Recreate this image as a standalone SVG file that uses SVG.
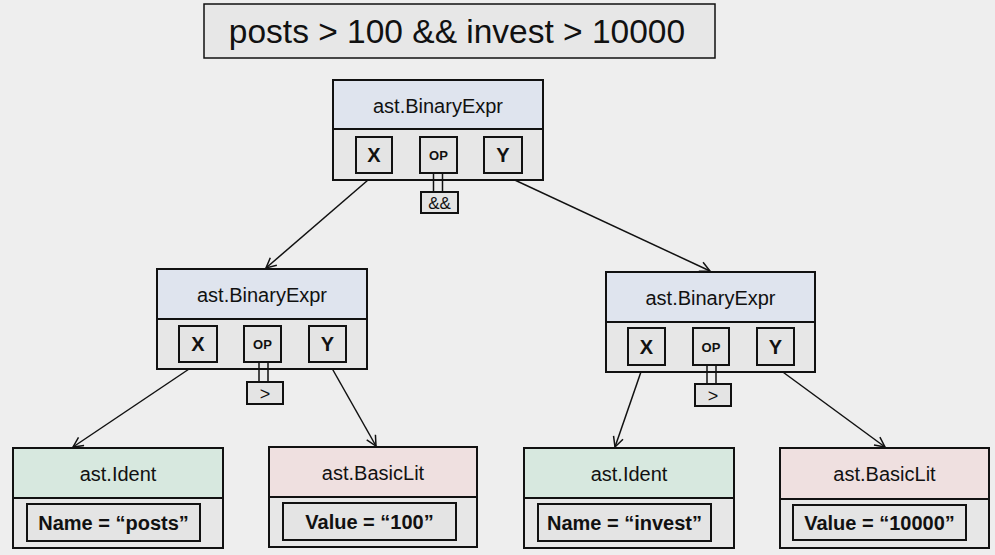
<svg xmlns="http://www.w3.org/2000/svg" width="995" height="555" viewBox="0 0 995 555">
<defs>
<style>
.bg{fill:#eeeeee}
.box{stroke:#111;stroke-width:2}
.body{fill:#e7e7e7}
.hb{fill:#dfe4ee}
.hg{fill:#d7e8df}
.hp{fill:#efe0e0}
.sm{fill:#e4e4e4;stroke:#111;stroke-width:2}
.t{font-family:"Liberation Sans",Arial,sans-serif;fill:#111;text-anchor:middle}
.h{font-size:20px}
.b{font-weight:bold}
.xy{font-size:20px;font-weight:bold}
.op{font-size:13px;font-weight:bold}
.conn{stroke:#111;stroke-width:1.5;fill:none}
.dl{stroke:#111;stroke-width:1.5}
</style>
<marker id="arr" viewBox="0 0 12 12" refX="11" refY="6" markerWidth="12" markerHeight="12" markerUnits="userSpaceOnUse" orient="auto">
<path d="M1,1 L11,6 L1,11" fill="none" stroke="#111" stroke-width="1.5"/>
</marker>
</defs>
<rect class="bg" x="0" y="0" width="995" height="555"/>

<g id="title">
<rect x="204" y="4" width="511" height="54" fill="#e7e7e7" stroke="#111" stroke-width="1.5"/>
<text class="t" x="457" y="43" font-size="33.5">posts &gt; 100 &amp;&amp; invest &gt; 10000</text>
</g>

<g id="connectors">
<line class="conn" x1="375" y1="174" x2="266" y2="268" marker-end="url(#arr)"/>
<line class="conn" x1="502" y1="174" x2="710" y2="271" marker-end="url(#arr)"/>
<line class="conn" x1="198" y1="363" x2="73" y2="447" marker-end="url(#arr)"/>
<line class="conn" x1="329" y1="363" x2="376" y2="446" marker-end="url(#arr)"/>
<line class="conn" x1="643" y1="366" x2="615" y2="447" marker-end="url(#arr)"/>
<line class="conn" x1="776" y1="367" x2="885" y2="447" marker-end="url(#arr)"/>
</g>

<g id="binary-top">
<rect class="box body" x="333" y="80" width="210" height="100"/>
<rect class="box hb" x="333" y="80" width="210" height="49"/>
<text class="t h" x="438" y="113">ast.BinaryExpr</text>
<rect class="sm" x="356" y="137" width="36" height="36"/>
<text class="t xy" x="374" y="162">X</text>
<rect class="sm" x="420" y="137" width="37" height="36"/>
<text class="t op" x="438.5" y="160">OP</text>
<rect class="sm" x="484" y="137" width="38" height="36"/>
<text class="t xy" x="503" y="162">Y</text>
<line class="dl" x1="433.5" y1="173" x2="433.5" y2="192"/>
<line class="dl" x1="442.5" y1="173" x2="442.5" y2="192"/>
<rect class="sm" x="421" y="192" width="37" height="21" stroke-width="1.5"/>
<text class="t" x="439.5" y="209" font-size="17">&amp;&amp;</text>
</g>

<g id="binary-left">
<rect class="box body" x="157" y="269" width="210" height="100"/>
<rect class="box hb" x="157" y="269" width="210" height="50"/>
<text class="t h" x="262" y="302">ast.BinaryExpr</text>
<rect class="sm" x="179" y="326" width="38" height="36"/>
<text class="t xy" x="198" y="351">X</text>
<rect class="sm" x="244" y="326" width="37" height="36"/>
<text class="t op" x="262.5" y="349">OP</text>
<rect class="sm" x="309" y="326" width="37" height="36"/>
<text class="t xy" x="327.5" y="351">Y</text>
<line class="dl" x1="259" y1="362" x2="259" y2="382"/>
<line class="dl" x1="268" y1="362" x2="268" y2="382"/>
<rect class="sm" x="247" y="382" width="36" height="22" stroke-width="1.5"/>
<text class="t" x="265" y="400" font-size="18">&gt;</text>
</g>

<g id="binary-right">
<rect class="box body" x="606" y="272" width="209" height="100"/>
<rect class="box hb" x="606" y="272" width="209" height="50"/>
<text class="t h" x="710.5" y="305">ast.BinaryExpr</text>
<rect class="sm" x="628" y="328" width="37" height="37"/>
<text class="t xy" x="646.5" y="354">X</text>
<rect class="sm" x="693" y="328" width="36" height="37"/>
<text class="t op" x="711" y="352">OP</text>
<rect class="sm" x="757" y="328" width="37" height="37"/>
<text class="t xy" x="775.5" y="354">Y</text>
<line class="dl" x1="707" y1="365" x2="707" y2="384"/>
<line class="dl" x1="716" y1="365" x2="716" y2="384"/>
<rect class="sm" x="695" y="384" width="36" height="22" stroke-width="1.5"/>
<text class="t" x="713" y="402" font-size="18">&gt;</text>
</g>

<g id="ident-left">
<rect class="box body" x="13" y="448" width="210" height="100"/>
<rect class="box hg" x="13" y="448" width="210" height="50"/>
<text class="t h" x="118" y="481">ast.Ident</text>
<rect class="sm" x="27" y="504" width="173" height="37"/>
<text class="t b" x="113.5" y="530" font-size="20">Name = “posts”</text>
</g>

<g id="basiclit-left">
<rect class="box body" x="269" y="447" width="208" height="100"/>
<rect class="box hp" x="269" y="447" width="208" height="50"/>
<text class="t h" x="373" y="480">ast.BasicLit</text>
<rect class="sm" x="283" y="503" width="173" height="37"/>
<text class="t b" x="369.5" y="529" font-size="20">Value = “100”</text>
</g>

<g id="ident-right">
<rect class="box body" x="524" y="448" width="210" height="100"/>
<rect class="box hg" x="524" y="448" width="210" height="50"/>
<text class="t h" x="629" y="481">ast.Ident</text>
<rect class="sm" x="538" y="504" width="173" height="37"/>
<text class="t b" x="624.5" y="530" font-size="20">Name = “invest”</text>
</g>

<g id="basiclit-right">
<rect class="box body" x="780" y="448" width="209" height="100"/>
<rect class="box hp" x="780" y="448" width="209" height="51"/>
<text class="t h" x="884.5" y="481">ast.BasicLit</text>
<rect class="sm" x="793" y="505" width="173" height="35"/>
<text class="t b" x="879.5" y="530" font-size="20">Value = “10000”</text>
</g>
</svg>
